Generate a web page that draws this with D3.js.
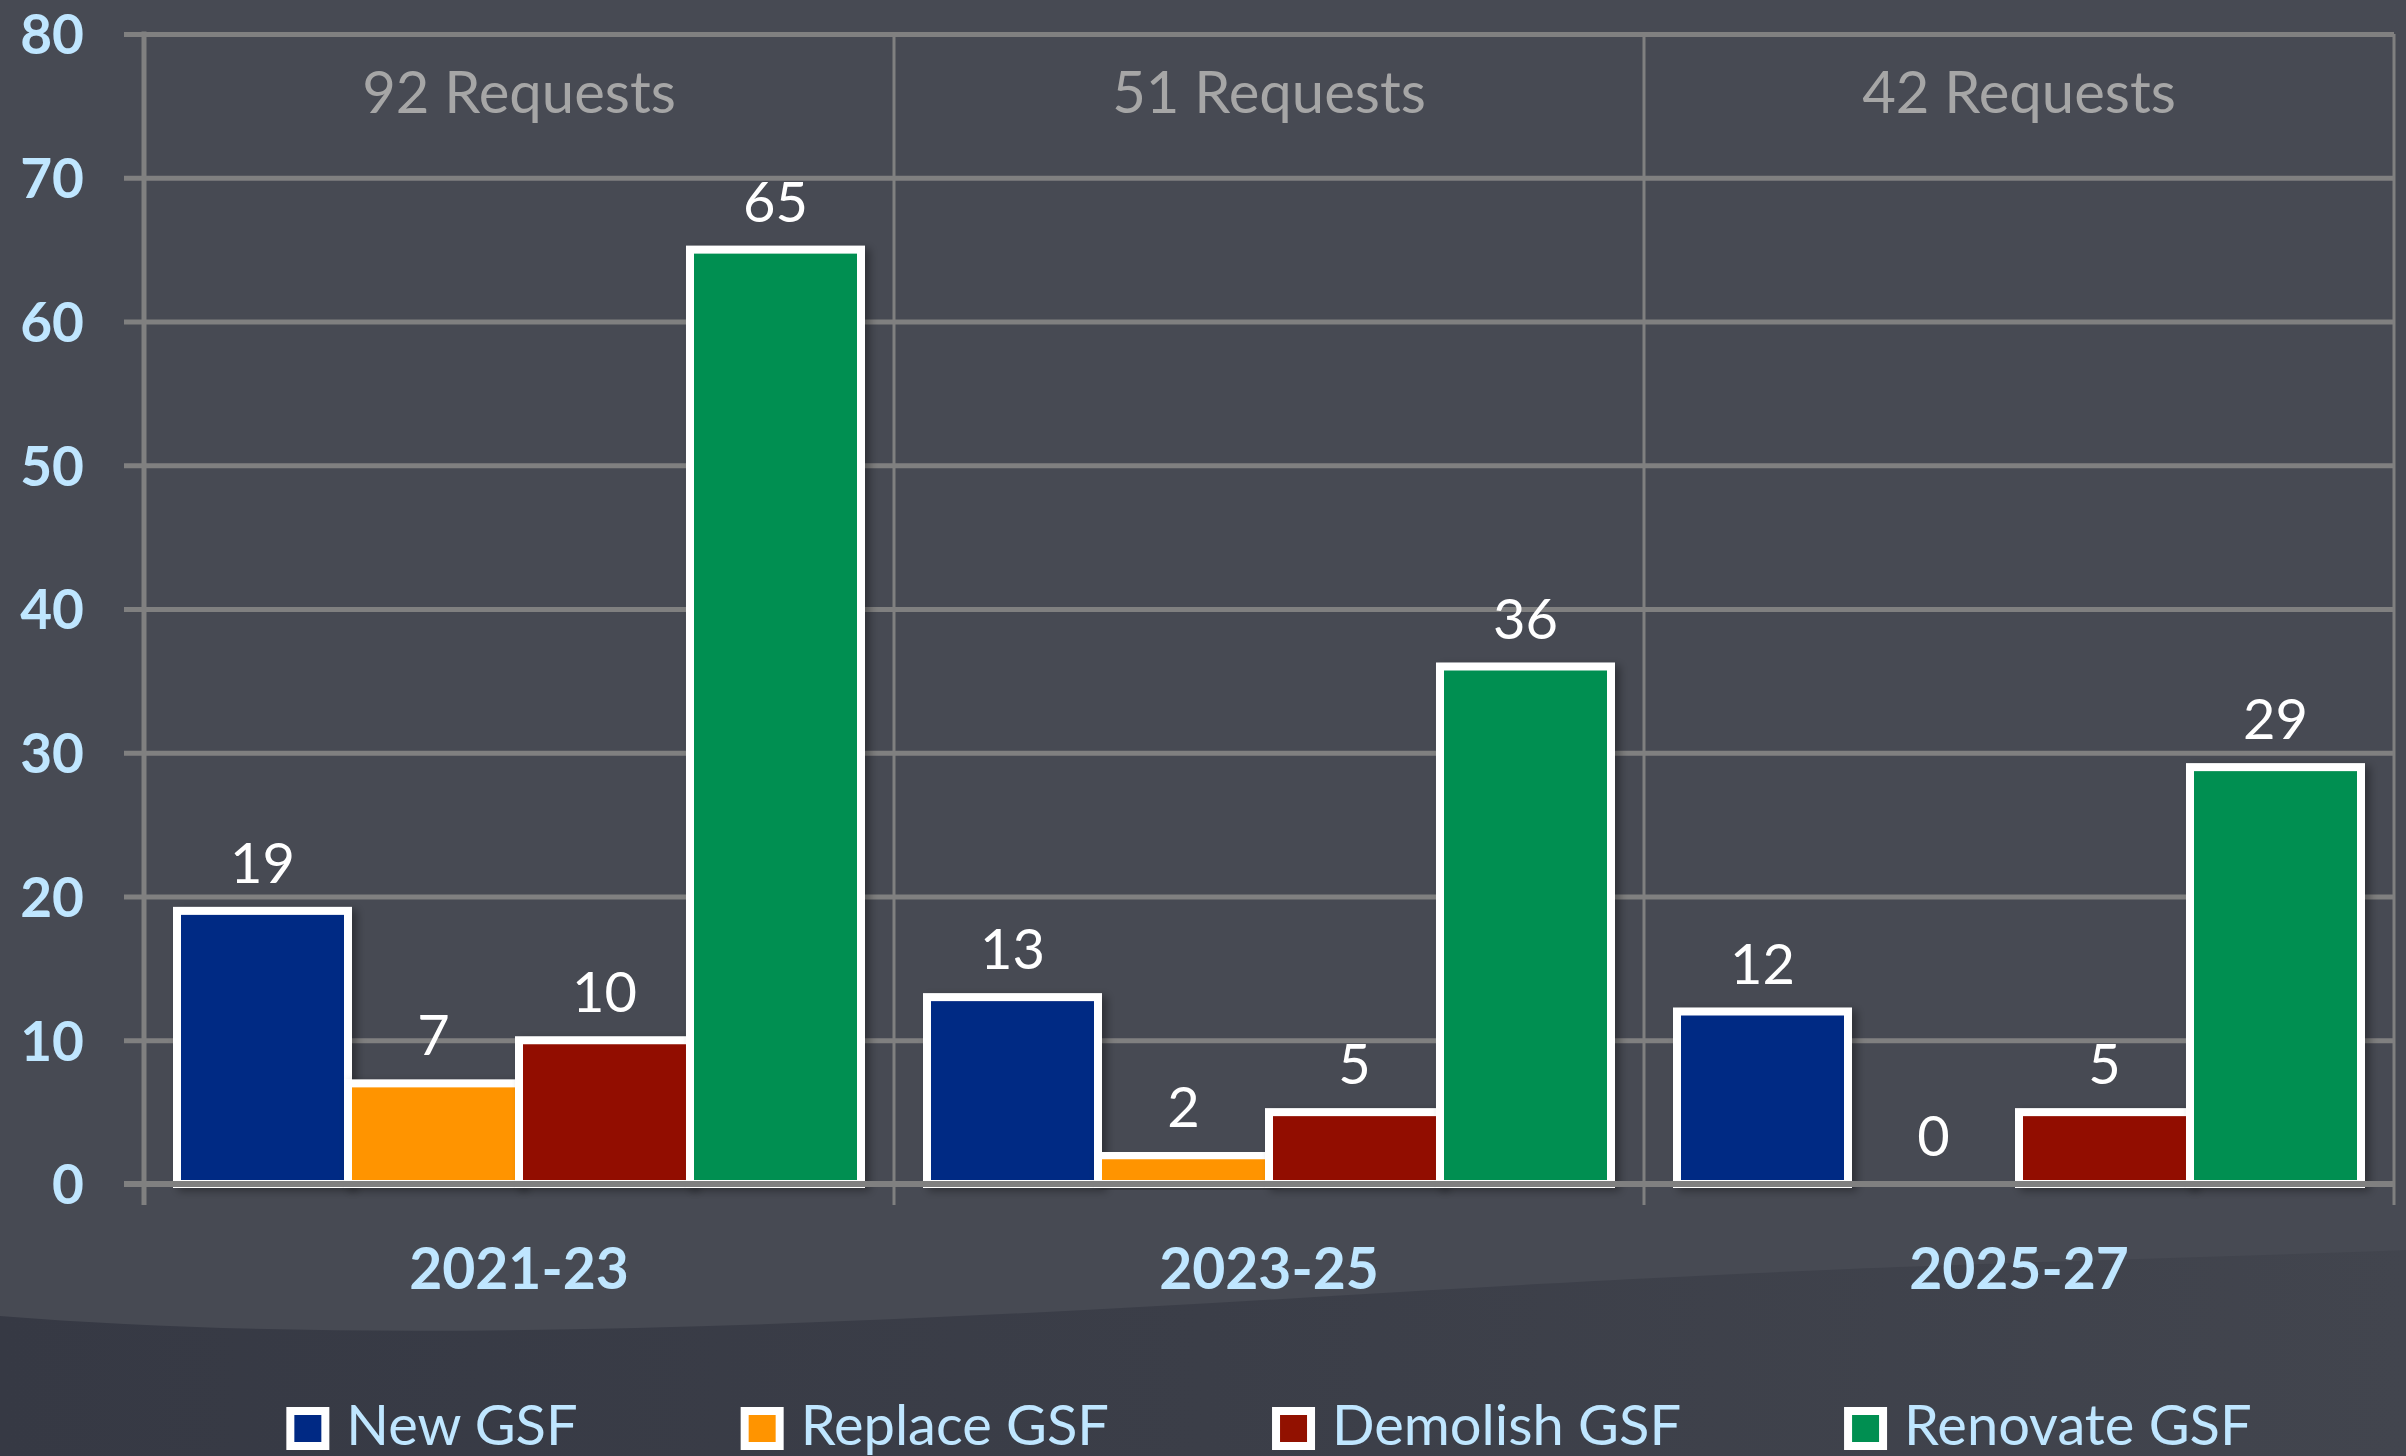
<!DOCTYPE html>
<html>
<head>
<meta charset="utf-8">
<script src="https://cdn.jsdelivr.net/npm/d3@7"></script>
<style>
  html, body { margin: 0; padding: 0; background: #474a53; }
  svg { display: block; }
</style>
</head>
<body>
<script>
// chart data
const groups = ["2021-23", "2023-25", "2025-27"]
const requestCounts = [92, 51, 42]
const seriesNames = ["New GSF", "Replace GSF", "Demolish GSF", "Renovate GSF"]
const newGSF = [19, 13, 12]
const replaceGSF = [7, 2, 0]
const demolishGSF = [10, 5, 5]
const renovateGSF = [65, 36, 29]
const yTicks = [0, 10, 20, 30, 40, 50, 60, 70, 80]

const seriesColors = ["#002984", "#ff9400", "#921100", "#008f51"]

const seriesValues = [newGSF, replaceGSF, demolishGSF, renovateGSF]

window.onload = function(){

    const width = 2406
    const height = 1456
    const left = 144, right = 2394, top = 34, bottom = 1184

    const svg = d3.select("body").append("svg")
        .attr("width", width)
        .attr("height", height)
        .style("font-family", "Lato, 'Open Sans', sans-serif")

    const defs = svg.append("defs")
    const grad = defs.append("linearGradient").attr("id", "lowBg")
        .attr("x1", "0").attr("x2", "1").attr("y1", "0").attr("y2", "0")
    grad.append("stop").attr("offset", "0").attr("stop-color", "#363944")
    grad.append("stop").attr("offset", "0.5").attr("stop-color", "#3b3e48")
    grad.append("stop").attr("offset", "1").attr("stop-color", "#42454e")

    defs.append("filter").attr("id", "shadow")
        .attr("x", "-10%").attr("y", "-10%").attr("width", "130%").attr("height", "130%")
        .append("feDropShadow")
        .attr("dx", 5).attr("dy", 3).attr("stdDeviation", 4)
        .attr("flood-color", "#000").attr("flood-opacity", 0.35)

    // background
    svg.append("rect").attr("width", width).attr("height", height).attr("fill", "#474a53")
    svg.append("path")
        .attr("d", "M0,1316 C400,1348 900,1322 1400,1292 S2100,1262 2406,1250 L2406,1456 L0,1456 Z")
        .attr("fill", "url(#lowBg)")

    const x0 = d3.scaleBand().domain(groups).range([left, right]).padding(0)
    const x1 = d3.scaleBand().domain(seriesNames).range([0, x0.bandwidth()])
        .paddingInner(0).paddingOuter(0.193)
    const y = d3.scaleLinear().domain([0, 80]).range([bottom, top])
    const color = d3.scaleOrdinal().domain(seriesNames).range(seriesColors)

    // horizontal gridlines (with the small tick to the left of the axis)
    const grid = svg.append("g")
        .attr("transform", `translate(${left - 20},0)`)
        .call(d3.axisLeft(y).tickValues(yTicks.filter(d => d > 0))
            .tickSize(-(right - left + 20)).tickFormat(""))
    grid.select(".domain").remove()
    grid.selectAll("line").attr("stroke", "#808080").attr("stroke-width", 5)

    // vertical lines: left axis + group dividers
    svg.append("line")
        .attr("x1", left).attr("x2", left).attr("y1", top - 2.5).attr("y2", bottom + 21)
        .attr("stroke", "#808080").attr("stroke-width", 5)
    svg.append("g").selectAll("line")
        .data(groups)
        .enter()
        .append("line")
        .attr("x1", d => x0(d) + x0.bandwidth())
        .attr("x2", d => x0(d) + x0.bandwidth())
        .attr("y1", top)
        .attr("y2", bottom + 21)
        .attr("stroke", "#808080")
        .attr("stroke-width", 3)

    // y labels
    const yAxis = svg.append("g")
        .attr("transform", `translate(${left},0)`)
        .call(d3.axisLeft(y).tickValues(yTicks).tickSize(0).tickPadding(60))
    yAxis.select(".domain").remove()
    yAxis.selectAll("text")
        .attr("dy", "0.36em")
        .attr("fill", "#bfe6ff")
        .style("font-family", "Lato, sans-serif")
        .style("font-size", "55px")
        .style("font-weight", "bold")

    // bars
    const groupG = svg.append("g").selectAll("g")
        .data(groups)
        .enter()
        .append("g")
        .attr("transform", d => `translate(${x0(d)},0)`)

    groupG.selectAll("rect")
        .data((g, gi) => seriesNames.map((s, si) => ({s: s, v: seriesValues[si][gi]})).filter(d => d.v > 0))
        .enter()
        .append("rect")
        .attr("x", d => x1(d.s))
        .attr("width", x1.bandwidth())
        .attr("y", d => y(d.v))
        .attr("height", d => y(0) - y(d.v))
        .attr("fill", d => color(d.s))
        .attr("stroke", "#fff")
        .attr("stroke-width", 8)
        .attr("filter", "url(#shadow)")

    groupG.selectAll("text.val")
        .data((g, gi) => seriesNames.map((s, si) => ({s: s, v: seriesValues[si][gi]})))
        .enter()
        .append("text")
        .attr("class", "val")
        .attr("x", d => x1(d.s) + x1.bandwidth() / 2)
        .attr("y", d => y(d.v) - 28)
        .attr("text-anchor", "middle")
        .attr("fill", "#fff")
        .style("font-size", "56px")
        .text(d => d.v)

    // request counts
    groupG.append("text")
        .attr("x", x0.bandwidth() / 2)
        .attr("y", 113)
        .attr("text-anchor", "middle")
        .attr("fill", "#a6a6a6")
        .style("font-size", "58px")
        .text((g, gi) => requestCounts[gi] + " Requests")

    // zero line on top of bars
    svg.append("line")
        .attr("x1", left - 20).attr("x2", right)
        .attr("y1", bottom).attr("y2", bottom)
        .attr("stroke", "#808080").attr("stroke-width", 6)

    // category labels
    const xAxis = svg.append("g")
        .attr("transform", `translate(0,${bottom})`)
        .call(d3.axisBottom(x0).tickSize(0).tickPadding(105))
    xAxis.select(".domain").remove()
    xAxis.selectAll("text")
        .attr("dy", 0)
        .attr("fill", "#bfe6ff")
        .style("font-family", "Lato, sans-serif")
        .style("font-size", "57px")
        .style("font-weight", "bold")

    // legend
    const legend = svg.append("g")
    const items = legend.selectAll("g")
        .data(seriesNames)
        .enter()
        .append("g")
    items.append("rect")
        .attr("x", 4).attr("y", 1411)
        .attr("width", 35).attr("height", 35)
        .attr("fill", d => color(d))
        .attr("stroke", "#fff")
        .attr("stroke-width", 8)
    items.append("text")
        .attr("x", 60)
        .attr("y", 1445)
        .attr("fill", "#bfe6ff")
        .style("font-size", "56px")
        .text(d => d)

    let pos = 0
    const offsets = []
    items.each(function(){
        offsets.push(pos)
        pos += 60 + d3.select(this).select("text").node().getComputedTextLength() + 163
    })
    const total = pos - 163
    const start = (left + right) / 2 - total / 2
    items.attr("transform", (d, i) => `translate(${start + offsets[i]},0)`)
}
</script>
</body>
</html>
